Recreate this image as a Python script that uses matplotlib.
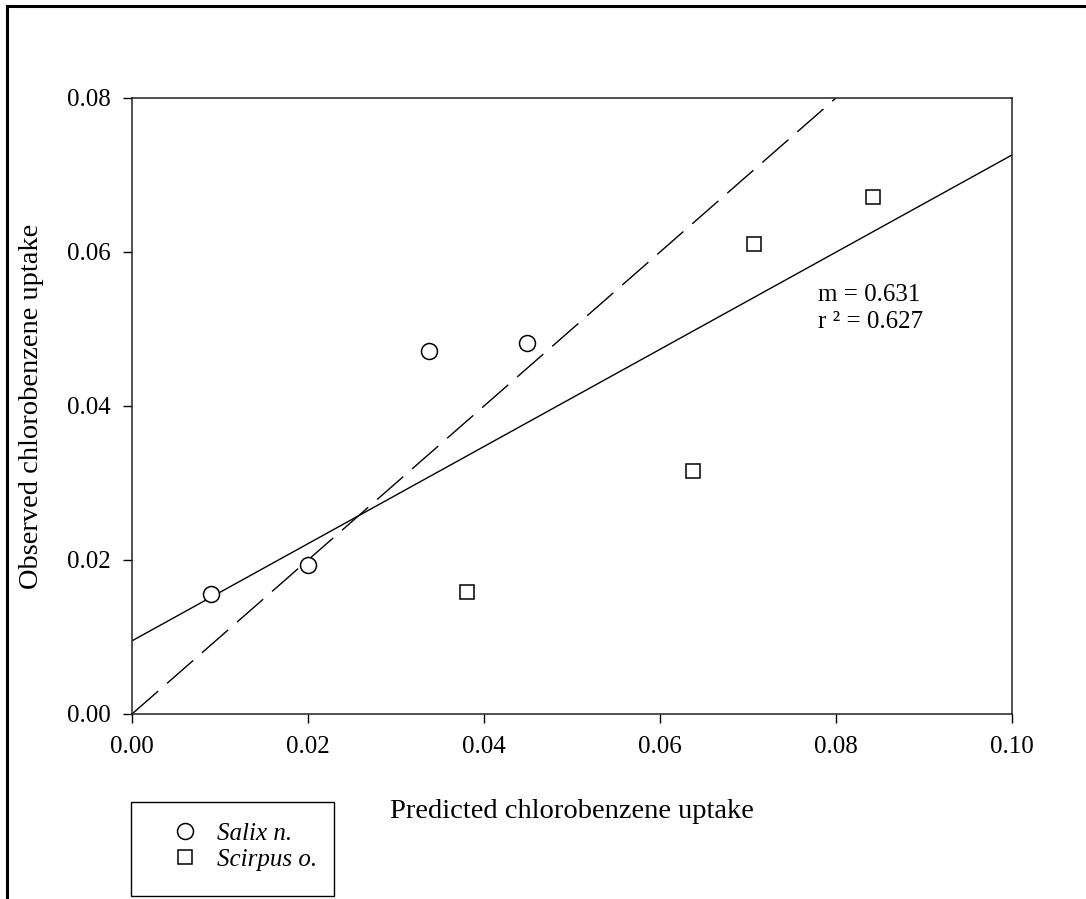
import matplotlib
matplotlib.use('Agg')
import matplotlib.pyplot as plt
from matplotlib.lines import Line2D
from matplotlib.patches import Rectangle
from matplotlib.ticker import FormatStrFormatter

plt.rcParams['font.family'] = ['Liberation Serif', 'DejaVu Serif']

# observed vs predicted uptake
salix_pred = [0.0090, 0.0200, 0.0337, 0.0449]
salix_obs = [0.0156, 0.0194, 0.0471, 0.0482]
scirpus_pred = [0.0381, 0.0638, 0.0707, 0.0842]
scirpus_obs = [0.0159, 0.0316, 0.0610, 0.0671]

# regression line (all points) and 1:1 line
fit_slope = 0.631
fit_icept = 0.0095
fit_r2 = 0.627
fit_x = [0.0, 0.10]
one_to_one = [0.0, 0.08]

x_ticks = [0.00, 0.02, 0.04, 0.06, 0.08, 0.10]
y_ticks = [0.00, 0.02, 0.04, 0.06, 0.08]

W, H = 1086, 899
fig = plt.figure(figsize=(W/100, H/100), dpi=100)
ax = fig.add_axes([132/W, 1 - 714/H, 880/W, 616/H])

ax.plot(fit_x, [fit_icept + fit_slope*x for x in fit_x], color='black', lw=1.0)
ax.plot(one_to_one, one_to_one, color='black', lw=1.0, dashes=(25, 8.5))

ax.plot(salix_pred, salix_obs, ls='none', marker='o', ms=11.5, mfc='white',
        mec='black', mew=1.1, label='Salix n.')
ax.plot(scirpus_pred, scirpus_obs, ls='none', marker='s', ms=10, mfc='white',
        mec='black', mew=1.1, label='Scirpus o.')

ax.set_xlim(0, 0.10)
ax.set_ylim(0, 0.08)
ax.set_xticks(x_ticks)
ax.set_yticks(y_ticks)
ax.xaxis.set_major_formatter(FormatStrFormatter('%.2f'))
ax.yaxis.set_major_formatter(FormatStrFormatter('%.2f'))
ax.tick_params(direction='out', length=6.5, width=1.0, labelsize=18, pad=9,
               top=False, right=False)
for s in ax.spines.values():
    s.set_linewidth(1.1)
    s.set_color('#222222')

ax.set_xlabel('Predicted chlorobenzene uptake', fontsize=20.5, labelpad=30)
ax.set_ylabel('Observed chlorobenzene uptake', fontsize=20.5, labelpad=16)

ax.text(0.0779, 0.0527, 'm = %.3f\nr ² = %.3f' % (fit_slope, fit_r2),
        fontsize=18, va='center', ha='left', linespacing=1.28)

# legend: box drawn separately, entries without frame
fig.add_artist(Rectangle((131/W, 1 - 896/H), 203/W, 94/H, transform=fig.transFigure,
                         fill=False, edgecolor='black', lw=1.0))
fig.legend(loc='upper left', bbox_to_anchor=(160/W, 1 - 822/H),
           borderaxespad=0, borderpad=0, frameon=False,
           handlelength=2.0, handletextpad=0.28, labelspacing=0.15,
           prop={'style': 'italic', 'size': 18})

# outer frame (left and top edges visible)
fig.add_artist(Line2D([7/W, 7/W], [0, 1 - 6/H], color='black', lw=2.2,
                      transform=fig.transFigure))
fig.add_artist(Line2D([7/W, 1], [1 - 6/H, 1 - 6/H], color='black', lw=2.2,
                      transform=fig.transFigure))

fig.savefig('out.png', dpi=100)
